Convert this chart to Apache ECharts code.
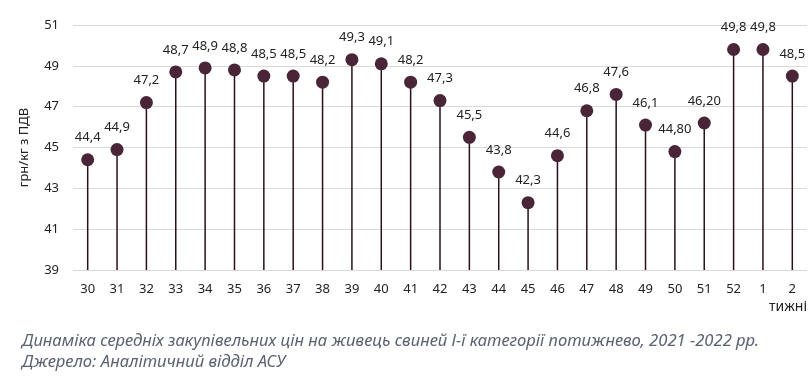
<!DOCTYPE html>
<html><head><meta charset="utf-8">
<script src="https://cdn.jsdelivr.net/npm/echarts@6/dist/echarts.min.js"></script>
<style>html,body{margin:0;padding:0;background:#fff}#c{width:810px;height:386px}</style>
</head><body><div id="c"></div>
<script>
const weeks = ['30','31','32','33','34','35','36','37','38','39','40','41','42','43','44','45','46','47','48','49','50','51','52','1','2'];
const prices = [44.4,44.9,47.2,48.7,48.9,48.8,48.5,48.5,48.2,49.3,49.1,48.2,47.3,45.5,43.8,42.3,44.6,46.8,47.6,46.1,44.8,46.2,49.8,49.8,48.5];
const priceLabels = ['44,4','44,9','47,2','48,7','48,9','48,8','48,5','48,5','48,2','49,3','49,1','48,2','47,3','45,5','43,8','42,3','44,6','46,8','47,6','46,1','44,80','46,20','49,8','49,8','48,5'];
const yTicks = [39,41,43,45,47,49,51];
const caption1 = 'Динаміка середніх закупівельних цін на живець свиней І-ї категорії потижнево, 2021 -2022 рр.';
const caption2 = 'Джерело: Аналітичний відділ АСУ';

const font = 'Noto Sans';
const chart = echarts.init(document.getElementById('c'));
chart.setOption({
  animation: false,
  grid: {left: 73, right: 3, top: 25, bottom: 116, containLabel: false},
  xAxis: {
    type: 'category', data: weeks, boundaryGap: true,
    axisLine: {show: false}, axisTick: {show: false},
    axisLabel: {color: '#222', fontFamily: font, fontSize: 13, margin: 13},
    name: 'тижні', nameLocation: 'end', nameGap: 0,
    nameTextStyle: {color: '#222', fontFamily: font, fontSize: 14, align: 'right', verticalAlign: 'top', padding: [30, 0, 0, 0]}
  },
  yAxis: {
    type: 'value', min: 39, max: 51, interval: 2,
    axisLine: {show: false}, axisTick: {show: false},
    splitLine: {lineStyle: {color: '#d9d9d9', width: 1}},
    axisLabel: {color: '#222', fontFamily: font, fontSize: 13, margin: 14,
      formatter: v => yTicks.includes(v) ? String(v) : ''},
    name: 'грн/кг з ПДВ', nameLocation: 'middle', nameGap: 42, nameRotate: 90,
    nameTextStyle: {color: '#222', fontFamily: font, fontSize: 13}
  },
  series: [
    {type: 'bar', data: prices, barWidth: 1.5, itemStyle: {color: '#2b0f1c'}, silent: true},
    {type: 'scatter', data: prices, symbolSize: 13, itemStyle: {color: '#4a2537', opacity: 1}, z: 3,
      label: {show: true, position: 'top', distance: 9, color: '#222', fontFamily: font, fontSize: 13,
        formatter: p => priceLabels[p.dataIndex]}}
  ],
  graphic: [
    {type: 'text', left: 22, top: 333, style: {text: caption1, fill: '#5b6272', font: 'italic 16.6px "Noto Sans"'}},
    {type: 'text', left: 22, top: 354, style: {text: caption2, fill: '#5b6272', font: 'italic 16.6px "Noto Sans"'}}
  ]
});
</script></body></html>
